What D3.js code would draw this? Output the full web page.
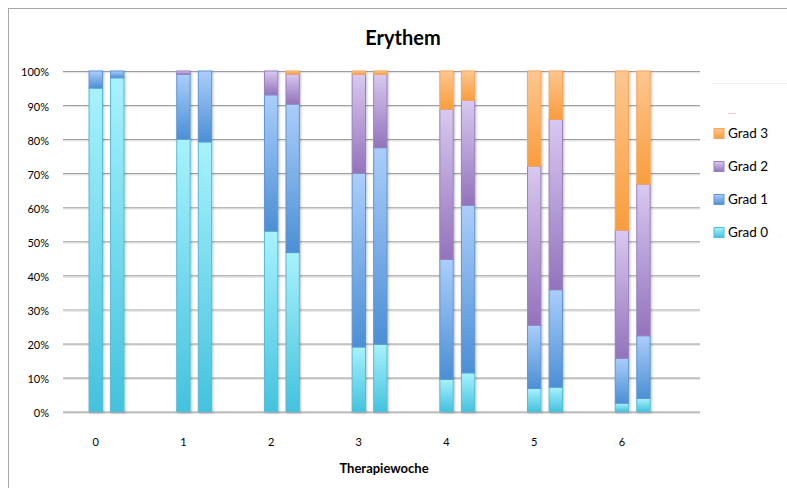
<!DOCTYPE html>
<html>
<head>
<meta charset="utf-8">
<script src="https://cdn.jsdelivr.net/npm/d3@7"></script>
<style>
  body { margin: 0; background: #fff; }
  text { font-family: Lato, "Open Sans", sans-serif; fill: #000; }
  .tick text { font-size: 11px; }
  .grid line { stroke: #a0a0a0; }
</style>
</head>
<body>
<script>
// Categories (therapy weeks) and the two bars per week
var weeks = ["0", "1", "2", "3", "4", "5", "6"];
var groups = ["A", "B"];
var grades = ["grad0", "grad1", "grad2", "grad3"];
var gradeLabels = ["Grad 0", "Grad 1", "Grad 2", "Grad 3"];

// Percent share of each grade, first bar of each week
var grad0A = [95, 80, 53, 19, 9.5, 6.8, 2.5];
var grad1A = [5, 19, 40, 51, 35.2, 18.6, 13.2];
var grad2A = [0, 1, 7, 29, 44.1, 46.7, 37.6];
var grad3A = [0, 0, 0, 1, 11.2, 27.9, 46.7];

// second bar of each week
var grad0B = [98, 79.2, 46.7, 19.8, 11.4, 7.2, 3.9];
var grad1B = [2, 20.8, 43.6, 57.7, 49.2, 28.6, 18.4];
var grad2B = [0, 0, 8.8, 21.5, 30.8, 50, 44.5];
var grad3B = [0, 0, 0.9, 1, 8.6, 14.2, 33.2];

var yTicks = [0, 0.1, 0.2, 0.3, 0.4, 0.5, 0.6, 0.7, 0.8, 0.9, 1];

// colours: top / bottom of the gradient, and outline
var colors = {
  grad0: {top: "#a8f2fd", bottom: "#44c2de", stroke: "#55bcd6"},
  grad1: {top: "#abcefa", bottom: "#4b8fd5", stroke: "#5f96d6"},
  grad2: {top: "#d9c9f0", bottom: "#9273bc", stroke: "#9a80bf"},
  grad3: {top: "#fdc690", bottom: "#f99d3c", stroke: "#f6a65a"}
};

// build rows for the stack
var rowsA = weeks.map(function(w, i) {
  return {week: w, grad0: grad0A[i] / 100, grad1: grad1A[i] / 100, grad2: grad2A[i] / 100, grad3: grad3A[i] / 100};
});
var rowsB = weeks.map(function(w, i) {
  return {week: w, grad0: grad0B[i] / 100, grad1: grad1B[i] / 100, grad2: grad2B[i] / 100, grad3: grad3B[i] / 100};
});

var W = 787, H = 488;
var plot = {left: 63, right: 700, top: 71, bottom: 411.7};

var svg = d3.select("body").append("svg")
    .attr("width", W)
    .attr("height", H);

var defs = svg.append("defs");
grades.forEach(function(g) {
  var lg = defs.append("linearGradient")
      .attr("id", "grad-" + g)
      .attr("x1", 0).attr("y1", 0).attr("x2", 0).attr("y2", 1);
  lg.append("stop").attr("offset", "0%").attr("stop-color", colors[g].top);
  lg.append("stop").attr("offset", "100%").attr("stop-color", colors[g].bottom);
});
var shadow = defs.append("filter").attr("id", "shadow")
    .attr("x", "-30%").attr("y", "-5%").attr("width", "160%").attr("height", "110%");
shadow.append("feDropShadow")
    .attr("dx", 1).attr("dy", 1).attr("stdDeviation", 1)
    .attr("flood-color", "#000").attr("flood-opacity", 0.25);

// chart frame
svg.append("rect")
    .attr("x", 8.5).attr("y", 8.5)
    .attr("width", W + 20).attr("height", H + 20)
    .attr("fill", "none")
    .attr("stroke", "#a8a8a8");

// Scales
var xScale = d3.scaleBand().domain(weeks).range([51.85, 665.75]);
var xInner = d3.scaleBand().domain(groups).range([-6.65, 28.25]).paddingInner(0.38);
var yScale = d3.scaleLinear().domain([0, 1]).range([plot.bottom, plot.top]);

// gridlines
var grid = svg.append("g")
    .attr("class", "grid")
    .attr("transform", "translate(" + plot.left + ",0)")
    .call(d3.axisLeft(yScale).tickValues(yTicks).tickSize(-(plot.right - plot.left)).tickFormat(""));
grid.select(".domain").remove();
grid.selectAll("line").attr("stroke", "#a0a0a0").attr("stroke-width", 1.2);
svg.append("g")
    .attr("transform", "translate(" + plot.left + ",1.2)")
    .call(d3.axisLeft(yScale).tickValues(yTicks).tickSize(-(plot.right - plot.left)).tickFormat(""))
  .call(function(g) { g.select(".domain").remove(); })
  .selectAll("line").attr("stroke", "#e2e2e2");

// y axis labels
var yAxis = svg.append("g")
    .attr("transform", "translate(" + plot.left + ",0)")
    .call(d3.axisLeft(yScale).tickValues(yTicks).tickSize(0).tickPadding(14).tickFormat(d3.format(".0%")));
yAxis.select(".domain").remove();
yAxis.selectAll("text").attr("dy", "0.45em");

// x axis labels
var xAxis = svg.append("g")
    .attr("transform", "translate(0," + plot.bottom + ")")
    .call(d3.axisBottom(xScale).tickSize(0).tickPadding(27));
xAxis.select(".domain").remove();
xAxis.selectAll("text").attr("font-size", "10px");

// stacked bars
var stack = d3.stack().keys(grades);
[rowsA, rowsB].forEach(function(rows, gi) {
  var layers = stack(rows);
  var g = svg.append("g").attr("filter", "url(#shadow)");
  layers.forEach(function(layer) {
    g.selectAll(null)
        .data(layer.filter(function(d) { return d[1] - d[0] > 0; }))
      .enter().append("rect")
        .attr("x", function(d) { return xScale(d.data.week) + xScale.bandwidth() / 2 + xInner(groups[gi]); })
        .attr("width", xInner.bandwidth())
        .attr("y", function(d) { return yScale(d[1]); })
        .attr("height", function(d) { return yScale(d[0]) - yScale(d[1]); })
        .attr("fill", "url(#grad-" + layer.key + ")")
        .attr("stroke", colors[layer.key].stroke)
        .attr("stroke-width", 1);
  });
});

// title
svg.append("text")
    .attr("x", 403)
    .attr("y", 45)
    .attr("text-anchor", "middle")
    .attr("font-size", "20px")
    .attr("font-weight", "bold")
    .text("Erythem");

// x axis title
svg.append("text")
    .attr("x", 384)
    .attr("y", 473)
    .attr("text-anchor", "middle")
    .attr("font-size", "13px")
    .attr("font-weight", "bold")
    .text("Therapiewoche");

// legend (top entry first)
svg.append("line")
    .attr("x1", 711).attr("x2", 787)
    .attr("y1", 83.5).attr("y2", 83.5)
    .attr("stroke", "#f0f0f0");
svg.append("line")
    .attr("x1", 728).attr("x2", 736)
    .attr("y1", 113.5).attr("y2", 113.5)
    .attr("stroke", "#f6c8c8");

var legendKeys = grades.slice().reverse();
var legend = svg.append("g").selectAll("g")
    .data(legendKeys)
  .enter().append("g")
    .attr("transform", function(d, i) { return "translate(714," + (128.5 + i * 33) + ")"; });
legend.append("rect")
    .attr("width", 10).attr("height", 10)
    .attr("fill", function(d) { return "url(#grad-" + d + ")"; })
    .attr("stroke", function(d) { return colors[d].stroke; });
legend.append("text")
    .attr("x", 14)
    .attr("y", 5)
    .attr("dy", "0.36em")
    .attr("font-size", "13.5px")
    .text(function(d) { return gradeLabels[grades.indexOf(d)]; });
</script>
</body>
</html>
